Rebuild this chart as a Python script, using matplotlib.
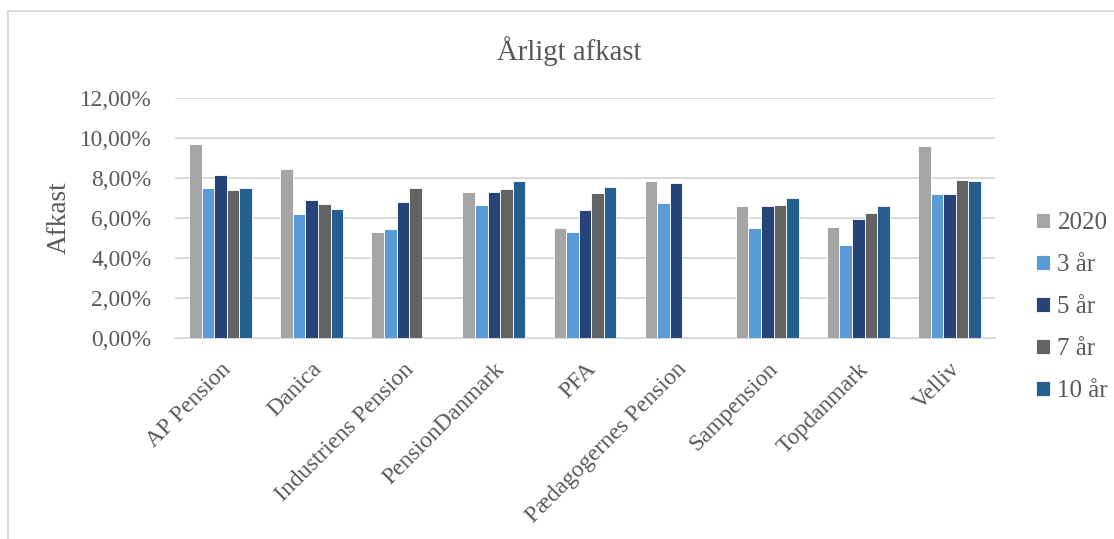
import matplotlib.pyplot as plt
import numpy as np
from matplotlib.ticker import FuncFormatter, MultipleLocator
from matplotlib.lines import Line2D

companies = ['AP Pension', 'Danica', 'Industriens Pension', 'PensionDanmark', 'PFA',
             'Pædagogernes Pension', 'Sampension', 'Topdanmark', 'Velliv']
series = ['2020', '3 år', '5 år', '7 år', '10 år']

# afkast i procent, nan = ingen data
y2020 = [9.73, 8.48, 5.32, 7.32, 5.53, 7.87, 6.62, 5.55, 9.60]
y3 = [7.50, 6.22, 5.47, 6.65, 5.32, 6.78, 5.52, 4.68, 7.23]
y5 = [8.15, 6.90, 6.83, 7.32, 6.40, 7.75, 6.60, 5.95, 7.20]
y7 = [7.43, 6.73, 7.50, 7.45, 7.27, np.nan, 6.65, 6.25, 7.90]
y10 = [7.50, 6.48, np.nan, 7.88, 7.58, np.nan, 7.03, 6.63, 7.87]

colors = ['#A5A5A5', '#5B9BD5', '#264478', '#636363', '#255E91']
txt = '#595959'

plt.rcParams['font.family'] = ['Liberation Serif', 'DejaVu Serif']

fig = plt.figure(figsize=(11.14, 5.39), dpi=100)
ax = fig.add_axes([0.1571, 0.3729, 0.7361, 0.4447])

x = np.arange(len(companies))
w = 0.138
for i, (vals, lab) in enumerate(zip([y2020, y3, y5, y7, y10], series)):
    ax.bar(x + (i - 2) * w, vals, w, color=colors[i], label=lab,
           edgecolor='white', linewidth=0.6, zorder=3)

ax.set_xlim(-0.5, len(companies) - 0.5)
ax.set_ylim(0, 12)
ax.yaxis.set_major_locator(MultipleLocator(2))
ax.yaxis.set_major_formatter(FuncFormatter(lambda v, p: f'{v:.2f}%'.replace('.', ',')))
ax.grid(axis='y', color='#D9D9D9', linewidth=1.4, zorder=0)
for s in ['top', 'right', 'left']:
    ax.spines[s].set_visible(False)
ax.spines['bottom'].set_color('#D9D9D9')
ax.spines['bottom'].set_linewidth(1.4)
ax.tick_params(length=0, colors=txt)
ax.tick_params(axis='y', pad=17, labelsize=16.8)
ax.tick_params(axis='x', pad=15, labelsize=17)
ax.set_xticks(x)
ax.set_xticklabels(companies, rotation=45, ha='right', va='top', rotation_mode='anchor')
ax.set_ylabel('Afkast', fontsize=19.5, color=txt, labelpad=6)

fig.text(0.511, 0.905, 'Årligt afkast', ha='center', va='center', fontsize=20.7, color=txt)

fig.legend(loc='center left', bbox_to_anchor=(0.91, 0.43), frameon=False,
           fontsize=18, handlelength=0.55, handleheight=0.55, handletextpad=0.3,
           labelspacing=0.8, labelcolor=txt)

# ramme
fig.add_artist(Line2D([8 / 1114, 8 / 1114], [0, 1 - 11 / 539], color='#D9D9D9', linewidth=1.3,
                      transform=fig.transFigure))
fig.add_artist(Line2D([8 / 1114, 1], [1 - 11 / 539, 1 - 11 / 539], color='#D9D9D9', linewidth=1.3,
                      transform=fig.transFigure))

fig.savefig('out.png', dpi=100)
